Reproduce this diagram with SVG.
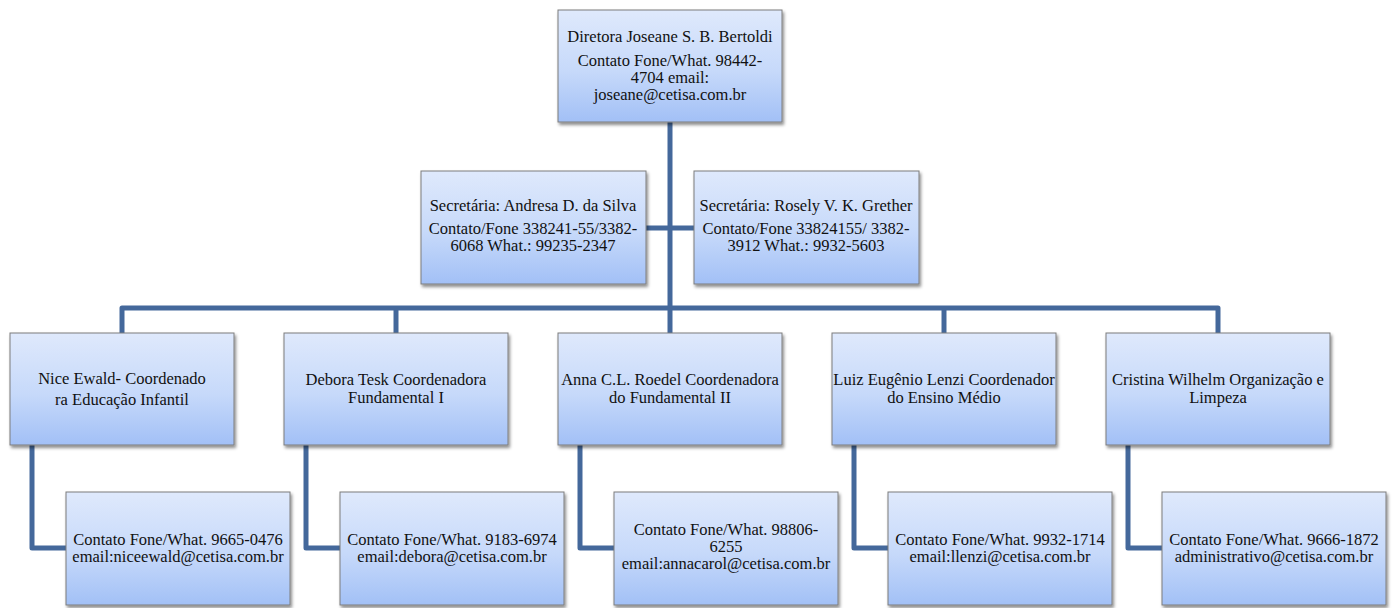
<svg xmlns="http://www.w3.org/2000/svg" width="1396" height="608" viewBox="0 0 1396 608">
  <defs>
    <linearGradient id="boxfill" x1="0" y1="0" x2="0" y2="1">
      <stop offset="0" stop-color="#dfe9fc"/>
      <stop offset="0.55" stop-color="#c6d9fa"/>
      <stop offset="1" stop-color="#a2c0f6"/>
    </linearGradient>
    <filter id="shadow" x="-10%" y="-10%" width="125%" height="130%">
      <feDropShadow dx="1.5" dy="2.5" stdDeviation="1.5" flood-color="#000" flood-opacity="0.45"/>
    </filter>
  </defs>
  <style>
    .box { fill: url(#boxfill); stroke: #7c7c7c; stroke-width: 1; filter: url(#shadow); }
    .conn { fill: none; stroke: #44689b; stroke-width: 5; stroke-linejoin: round; stroke-linecap: butt; }
    text { font-family: "Liberation Serif", "Times New Roman", serif; font-size: 16.5px; fill: #111111; text-anchor: middle; }
  </style>
  <rect width="1396" height="608" fill="#ffffff"/>

  <g id="connectors">
    <path class="conn" d="M670 122 V333"/>
    <path class="conn" d="M646 228 H694"/>
    <path class="conn" d="M122 333 V308 H1218 V333"/>
    <path class="conn" d="M396 308 V333"/>
    <path class="conn" d="M944 308 V333"/>
    <path class="conn" d="M32 445 V548 H66"/>
    <path class="conn" d="M306 445 V548 H340"/>
    <path class="conn" d="M580 445 V548 H614"/>
    <path class="conn" d="M854 445 V548 H888"/>
    <path class="conn" d="M1128 445 V548 H1162"/>
  </g>

  <g id="diretora">
    <rect class="box" x="558" y="10" width="224" height="112"/>
    <text x="670" y="42">Diretora Joseane S. B. Bertoldi</text>
    <text x="670" y="66">Contato Fone/What. 98442-</text>
    <text x="670" y="83">4704 email:</text>
    <text x="670" y="100">joseane@cetisa.com.br</text>
  </g>

  <g id="secretaria-andresa">
    <rect class="box" x="421" y="171" width="225" height="113"/>
    <text x="533" y="211">Secretária: Andresa D. da Silva</text>
    <text x="533" y="234">Contato/Fone 338241-55/3382-</text>
    <text x="533" y="251">6068 What.: 99235-2347</text>
  </g>

  <g id="secretaria-rosely">
    <rect class="box" x="694" y="171" width="225" height="113"/>
    <text x="806" y="211">Secretária: Rosely V. K. Grether</text>
    <text x="806" y="234">Contato/Fone 33824155/ 3382-</text>
    <text x="806" y="251">3912 What.: 9932-5603</text>
  </g>

  <g id="coord-infantil">
    <rect class="box" x="10" y="333" width="224" height="112"/>
    <text x="122" y="384">Nice Ewald- Coordenado</text>
    <text x="122" y="405">ra Educação Infantil</text>
  </g>

  <g id="coord-fund1">
    <rect class="box" x="284" y="333" width="224" height="112"/>
    <text x="396" y="385">Debora Tesk Coordenadora</text>
    <text x="396" y="403">Fundamental I</text>
  </g>

  <g id="coord-fund2">
    <rect class="box" x="558" y="333" width="224" height="112"/>
    <text x="670" y="385">Anna C.L. Roedel Coordenadora</text>
    <text x="670" y="403">do Fundamental II</text>
  </g>

  <g id="coord-medio">
    <rect class="box" x="832" y="333" width="224" height="112"/>
    <text x="944" y="385">Luiz Eugênio Lenzi Coordenador</text>
    <text x="944" y="403">do Ensino Médio</text>
  </g>

  <g id="org-limpeza">
    <rect class="box" x="1106" y="333" width="224" height="112"/>
    <text x="1218" y="385">Cristina Wilhelm Organização e</text>
    <text x="1218" y="403">Limpeza</text>
  </g>

  <g id="contato-nice">
    <rect class="box" x="66" y="492" width="224" height="113"/>
    <text x="178" y="545">Contato Fone/What. 9665-0476</text>
    <text x="178" y="562">email:niceewald@cetisa.com.br</text>
  </g>

  <g id="contato-debora">
    <rect class="box" x="340" y="492" width="224" height="113"/>
    <text x="452" y="545">Contato Fone/What. 9183-6974</text>
    <text x="452" y="562">email:debora@cetisa.com.br</text>
  </g>

  <g id="contato-anna">
    <rect class="box" x="614" y="492" width="224" height="113"/>
    <text x="726" y="535">Contato Fone/What. 98806-</text>
    <text x="726" y="552">6255</text>
    <text x="726" y="569">email:annacarol@cetisa.com.br</text>
  </g>

  <g id="contato-luiz">
    <rect class="box" x="888" y="492" width="224" height="113"/>
    <text x="1000" y="545">Contato Fone/What. 9932-1714</text>
    <text x="1000" y="562">email:llenzi@cetisa.com.br</text>
  </g>

  <g id="contato-cristina">
    <rect class="box" x="1162" y="492" width="224" height="113"/>
    <text x="1274" y="545">Contato Fone/What. 9666-1872</text>
    <text x="1274" y="562">administrativo@cetisa.com.br</text>
  </g>
</svg>
